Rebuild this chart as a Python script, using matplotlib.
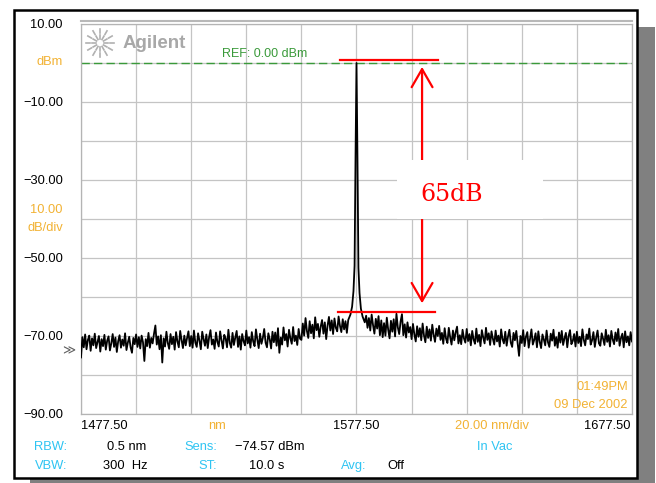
import numpy as np
import matplotlib
matplotlib.use("Agg")
import matplotlib.pyplot as plt
from matplotlib.patches import Rectangle
from matplotlib.lines import Line2D

plt.rcParams['font.family'] = ['Liberation Sans', 'DejaVu Sans']

# sweep settings
start_nm = 1477.5
center_nm = 1577.5
stop_nm = 1677.5
ref_dbm = 0.0

# noise floor trace, one sample every 0.5 nm (1477.5 ... 1677.5), 10 nm per row
noise_dbm = [
    -75.5, -70.3, -72.9, -69.6, -73.4, -71.0, -69.9, -73.8, -70.6, -72.4, -69.4, -73.1, -71.5, -70.0, -74.0, -70.8, -72.6, -69.7, -73.5, -71.2,
    -70.1, -73.7, -71.9, -69.5, -72.8, -70.4, -74.1, -71.3, -69.8, -73.0, -70.9, -72.5, -69.3, -73.6, -71.7, -70.2, -72.9, -74.3, -70.5, -72.1,
    -69.6, -72.8, -70.3, -73.2, -69.9, -71.6, -76.4, -70.8, -72.6, -69.2, -73.0, -70.5, -71.9, -69.4, -67.3, -72.2, -70.1, -73.4, -69.8, -76.8,
    -70.6, -72.7, -68.9, -71.8, -73.3, -69.5, -72.1, -70.2, -73.5, -69.0, -71.4, -72.9, -68.7, -71.0, -73.1, -69.9, -72.4, -70.5, -68.8, -72.6,
    -70.0, -73.0, -68.6, -71.7, -72.8, -69.3, -71.2, -73.4, -68.9, -70.8, -72.5, -69.6, -73.1, -70.3, -68.5, -72.2, -70.9, -73.3, -69.1, -71.5,
    -72.7, -68.8, -71.1, -73.2, -69.7, -70.6, -72.9, -68.4, -71.8, -73.0, -69.2, -72.3, -70.4, -68.7, -72.8, -70.1, -73.5, -69.5, -71.3, -72.4,
    -68.6, -71.9, -70.3, -73.0, -69.0, -71.4, -72.6, -68.3, -70.9, -73.1, -69.4, -72.0, -70.5, -68.2, -71.7, -72.9, -69.3, -70.8, -73.2, -68.9,
    -71.6, -69.1, -72.5, -68.0, -74.3, -70.4, -72.2, -67.8, -71.1, -69.5, -72.7, -68.4, -70.6, -72.0, -67.7, -71.3, -69.9, -72.3, -68.2, -70.7,
    -71.0, -66.8, -69.9, -65.4, -68.7, -70.5, -66.2, -69.3, -67.1, -70.6, -65.2, -68.5, -66.9, -70.2, -67.6, -65.9, -69.4, -66.5, -70.8, -67.3,
    -65.1, -68.6, -66.0, -69.5, -65.5, -67.9, -68.8, -65.0, -67.4, -69.0, -65.7, -68.3, -66.2, -69.2, -65.9, -67.6, -66.4, -65.0, -64.5, -63.5,
    -60.0, -62.0, -63.0, -64.0, -64.5, -65.0, -66.5, -64.8, -67.9, -65.4, -68.6, -64.5, -67.2, -69.4, -65.6, -68.1, -64.9, -69.8, -66.0, -70.3,
    -66.7, -69.9, -65.3, -68.4, -70.6, -66.1, -68.9, -65.7, -70.1, -64.3, -67.8, -69.5, -66.3, -64.4, -69.8, -67.0, -70.4, -66.5, -69.1, -67.7,
    -70.8, -66.9, -69.6, -71.4, -67.5, -70.2, -68.0, -71.1, -66.8, -69.9, -71.6, -67.6, -70.5, -68.3, -71.2, -67.1, -69.7, -71.5, -68.1, -70.0,
    -67.4, -71.0, -69.2, -72.0, -68.0, -70.7, -71.8, -67.9, -70.3, -72.2, -68.6, -71.1, -69.0, -67.6, -71.9, -69.8, -72.1, -68.4, -70.6, -71.7,
    -68.2, -71.3, -69.5, -72.4, -68.7, -70.9, -72.0, -68.1, -71.5, -69.7, -72.6, -68.5, -70.4, -71.9, -67.9, -71.0, -69.3, -72.3, -68.8, -70.7,
    -72.2, -68.6, -71.4, -69.9, -72.7, -68.3, -70.8, -71.9, -68.9, -72.5, -70.1, -68.4, -71.7, -72.8, -69.2, -71.1, -68.7, -72.0, -75.1, -70.0,
    -71.8, -68.5, -72.6, -70.2, -69.0, -73.0, -70.7, -68.3, -72.2, -71.0, -69.3, -72.9, -68.8, -71.5, -73.1, -69.6, -70.9, -72.4, -68.6, -71.6,
    -72.8, -69.4, -71.2, -68.4, -72.5, -70.3, -73.0, -69.1, -71.7, -68.7, -72.3, -70.6, -69.2, -72.9, -70.0, -68.5, -72.1, -71.3, -69.5, -72.7,
    -68.9, -71.8, -70.2, -72.6, -68.3, -71.0, -72.4, -69.6, -70.8, -68.1, -72.2, -71.1, -69.0, -72.8, -70.4, -68.6, -71.9, -72.5, -69.3, -70.7,
    -72.3, -68.4, -71.5, -69.8, -72.7, -68.7, -70.9, -72.1, -69.1, -71.3, -68.2, -72.5, -70.5, -69.4, -72.9, -68.8, -71.6, -70.1, -72.4, -69.0,
    -71.4,
]

# the laser line itself
peak_nm = [1575.3, 1575.9, 1576.4, 1576.8, 1577.15, 1577.5,
           1577.85, 1578.2, 1578.6, 1579.1, 1579.7]
peak_dbm = [-64.5, -62.5, -58.5, -52.0, -24.0, 0.0,
            -24.5, -52.5, -59.0, -63.0, -65.0]

# hand drawn 65 dB marking
top_mark_nm = [1571.5, 1607.1]
top_mark_dbm = 0.7
bottom_mark_nm = [1570.8, 1606.0]
bottom_mark_dbm = -63.8
arrow_nm = 1601.3
arrow_dbm = [-1.0, -61.6]
mark_label = "65dB"

orange = '#f2b233'
cyan = '#2ec4f2'
green = '#3a9a3a'

W, H = 656, 483


def fx(px):
    return px / W


def fy(py):
    return 1 - py / H


fig = plt.figure(figsize=(6.56, 4.83), dpi=100)
fig.patch.set_facecolor('white')

# window frame with shadow
fig.add_artist(Rectangle((fx(30), fy(483)), (655 - 30) / W, (483 - 27) / H,
                         transform=fig.transFigure, facecolor='#808080',
                         edgecolor='none', zorder=-6))
fig.add_artist(Rectangle((fx(14), fy(478)), (637 - 14) / W, (478 - 10) / H,
                         transform=fig.transFigure, facecolor='white',
                         edgecolor='black', lw=1.8, zorder=-5))
fig.add_artist(Line2D([fx(81), fx(632)], [fy(20.8), fy(20.8)],
                      transform=fig.transFigure, color='#b8b8b8', lw=1.5))

ax = fig.add_axes([fx(81), fy(414), (632 - 81) / W, (414 - 24) / H])
ax.set_xlim(start_nm, stop_nm)
ax.set_ylim(-90, 10)

nm = np.linspace(start_nm, stop_nm, len(noise_dbm))
keep = np.abs(nm - center_nm) > 2.5
x = np.concatenate([nm[keep], peak_nm])
y = np.concatenate([np.array(noise_dbm)[keep], peak_dbm])
order = np.argsort(x)
ax.plot(x[order], y[order], color='black', lw=1.3, zorder=3)

# grid
ax.set_xticks(np.arange(start_nm, stop_nm + 1, 20))
ax.set_xticklabels([])
yt = np.arange(-90, 11, 10)
ax.set_yticks(yt)
ax.set_yticklabels([("%.2f" % v).replace("-", "\u2212") if v % 20 != 0 else "" for v in yt])
ax.tick_params(length=0, labelsize=9.3, pad=13)
ax.grid(True, color='#c4c4c4', lw=0.9)
for s in ax.spines.values():
    s.set_color('#b4b4b4')
    s.set_linewidth(0.9)

ax.axhline(ref_dbm, color=green, lw=1.0, dashes=(6, 3), zorder=2)
ax.text(1528.7, 2.2, "REF: 0.00 dBm", color=green, fontsize=9, va='center')

# y axis annotations
yax = ax.get_yaxis_transform()
ax.text(-0.033, 0.2, "dBm", color=orange, fontsize=9.3, ha='right', va='center', transform=yax)
ax.text(-0.033, -37.8, "10.00", color=orange, fontsize=9.3, ha='right', va='center', transform=yax)
ax.text(-0.033, -42.4, "dB/div", color=orange, fontsize=9.3, ha='right', va='center', transform=yax)
ax.text(-0.022, -73.7, "\u226b", color='#606060', fontsize=9, ha='center', va='center',
        transform=yax, family=['DejaVu Sans'])

# x axis annotations
xax = ax.get_xaxis_transform()
ax.text(start_nm, -0.031, "1477.50", fontsize=9.3, ha='left', va='center', transform=xax)
ax.text(center_nm, -0.031, "1577.50", fontsize=9.3, ha='center', va='center', transform=xax)
ax.text(1676.8, -0.031, "1677.50", fontsize=9.3, ha='right', va='center', transform=xax)
ax.text(1526.9, -0.031, "nm", color=orange, fontsize=9.3, ha='center', va='center', transform=xax)
ax.text(1626.7, -0.031, "20.00 nm/div", color=orange, fontsize=9.3, ha='center', va='center', transform=xax)

ax.text(0.9927, 0.069, "01:49PM", color=orange, fontsize=9.3, ha='right', va='center', transform=ax.transAxes)
ax.text(0.9927, 0.022, "09 Dec 2002", color=orange, fontsize=9.3, ha='right', va='center', transform=ax.transAxes)

# Agilent logo
cx, cy = fx(100), fy(43)
for a in np.arange(0, 360, 30):
    r = np.deg2rad(a)
    for r0, r1 in ((4, 8), (10, 14)):
        fig.add_artist(Line2D([cx + np.cos(r) * r0 / W, cx + np.cos(r) * r1 / W],
                              [cy + np.sin(r) * r0 / H, cy + np.sin(r) * r1 / H],
                              transform=fig.transFigure, color='#b0b0b0', lw=1.2))
fig.text(fx(123), fy(43), "Agilent", color='#a8a8a8', fontsize=13.5,
         fontweight='bold', va='center')

# bottom status lines
rows = [
    (446.7, [("RBW:", 67, 'right', cyan), ("0.5 nm", 107, 'left', 'black'),
             ("Sens:", 217, 'right', cyan), ("\u221274.57 dBm", 235, 'left', 'black'),
             ("In Vac", 495, 'center', cyan)]),
    (465.7, [("VBW:", 67, 'right', cyan), ("300  Hz", 103, 'left', 'black'),
             ("ST:", 217, 'right', cyan), ("10.0 s", 249, 'left', 'black'),
             ("Avg:", 366, 'right', cyan), ("Off", 387, 'left', 'black')]),
]
for py, items in rows:
    for s, px, ha, c in items:
        fig.text(fx(px), fy(py), s, color=c, fontsize=9.3, ha=ha, va='center')

# 65 dB marking
ax.plot(top_mark_nm, [top_mark_dbm] * 2, color='red', lw=1.6, zorder=5)
ax.plot(bottom_mark_nm, [bottom_mark_dbm] * 2, color='red', lw=1.6, zorder=5)
ax.annotate("", xy=(arrow_nm, arrow_dbm[0]), xytext=(arrow_nm, arrow_dbm[1]),
            arrowprops=dict(arrowstyle='<->,head_length=1.3,head_width=0.75',
                            color='red', lw=1.6, shrinkA=0, shrinkB=0,
                            mutation_scale=10), zorder=5)
ax.add_patch(Rectangle((1592.2, -40.1), 1645.2 - 1592.2, 40.1 - 24.9,
                       facecolor='white', edgecolor='none', zorder=6))
ax.text(1612.2, -33.6, mark_label, color='red', fontsize=17, ha='center', va='center',
        family=['DejaVu Serif'], zorder=7)

fig.savefig("out.png", dpi=100)
